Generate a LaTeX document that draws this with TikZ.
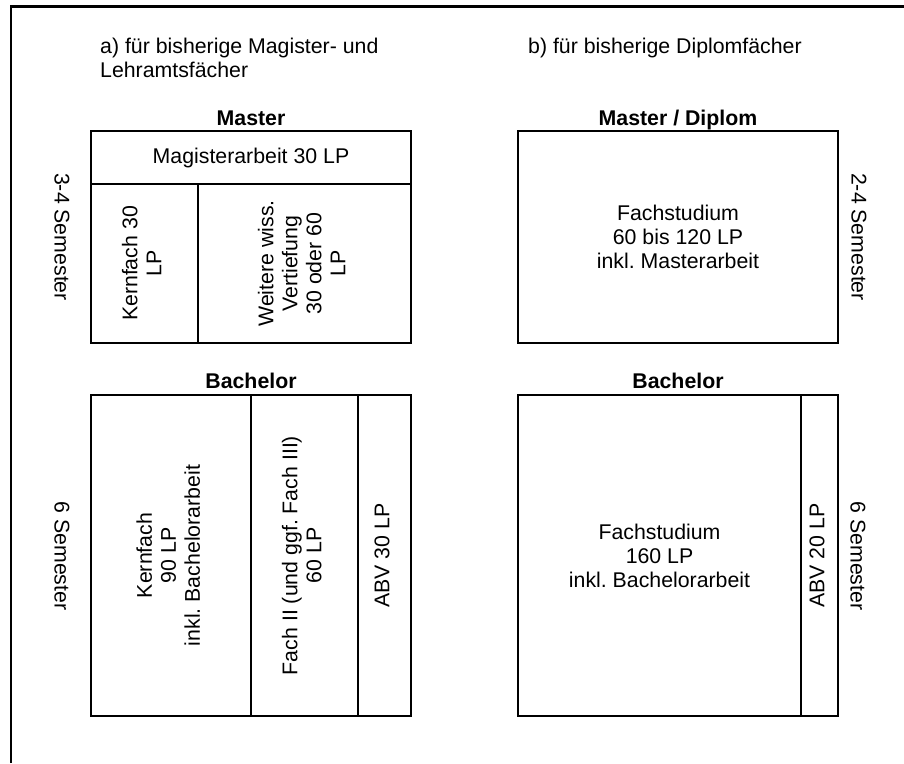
\documentclass[tikz,border=0pt]{standalone}
\usepackage{fontspec}
\setmainfont{Liberation Sans}
\usetikzlibrary{positioning}
\frenchspacing

\newcommand{\uptext}[1]{\rotatebox{90}{\begin{tabular}{@{}c@{}}#1\end{tabular}}}

\begin{document}
\begin{tikzpicture}[x=1pt, y=-1pt,
    every node/.style={font=\fontsize{21.3}{24}\selectfont},
    cell/.style={
      rectangle,
      draw=black,
      line width=2pt,
      inner sep=0pt,
      outer sep=0pt,
      align=center
    },
    title/.style={
      font=\fontsize{21.3}{24}\selectfont\bfseries,
      inner sep=0pt,
      anchor=base
    },
    sem/.style={
      rotate=-90,
      inner sep=0pt
    },
    head/.style={
      align=left,
      inner sep=0pt,
      anchor=base west
    }
]

\useasboundingbox (0,0) rectangle (904,763);

%% Frame
\draw[line width=2.3pt] (11,763) -- (11,6.5) -- (904,6.5);

%% Headings
\node [head] (headA) at (100,77) {a) für bisherige Magister- und\\Lehramtsfächer};
\node [head] (headB) at (528,53) {b) für bisherige Diplomfächer};

%% a) Master
\node [title] (mtitleA) at (251,125) {Master};
\node [cell, minimum width=320, minimum height=53, anchor=north west] (magA) at (91,131) {Magisterarbeit 30 LP};
\node [cell, minimum width=107, minimum height=159] (kernA) [below right = 0pt and 0pt of magA.south west] {\uptext{Kernfach 30\\LP}};
\node [cell, minimum width=213, minimum height=159] (weitA) [right = 0pt of kernA] {\uptext{Weitere wiss.\\Vertiefung\\30 oder 60\\LP}};
\node [sem] (semA) at (62,237) {3-4 Semester};

%% b) Master / Diplom
\node [title] (mtitleB) at (678,125) {Master / Diplom};
\node [cell, minimum width=320, minimum height=212, anchor=north west] (fachB) at (518,131) {Fachstudium\\60 bis 120 LP\\inkl. Masterarbeit};
\node [sem] (semB) at (859,237) {2-4 Semester};

%% a) Bachelor
\node [title] (btitleA) at (251,388) {Bachelor};
\node [cell, minimum width=160, minimum height=321, anchor=north west] (bkernA) at (91,395) {\uptext{Kernfach\\90 LP\\inkl. Bachelorarbeit}};
\node [cell, minimum width=107, minimum height=321] (zweitA) [right = 0pt of bkernA] {\uptext{Fach II (und ggf. Fach III)\\60 LP}};
\node [cell, minimum width=53, minimum height=321] (abvA) [right = 0pt of zweitA] {\uptext{ABV 30 LP}};
\node [sem] (bsemA) at (62,556) {6 Semester};

%% b) Bachelor
\node [title] (btitleB) at (678,388) {Bachelor};
\node [cell, minimum width=283, minimum height=321, anchor=north west] (bfachB) at (518,395) {Fachstudium\\160 LP\\inkl. Bachelorarbeit};
\node [cell, minimum width=37, minimum height=321] (abvB) [right = 0pt of bfachB] {\uptext{ABV 20 LP}};
\node [sem] (bsemB) at (858,556) {6 Semester};

\end{tikzpicture}
\end{document}
